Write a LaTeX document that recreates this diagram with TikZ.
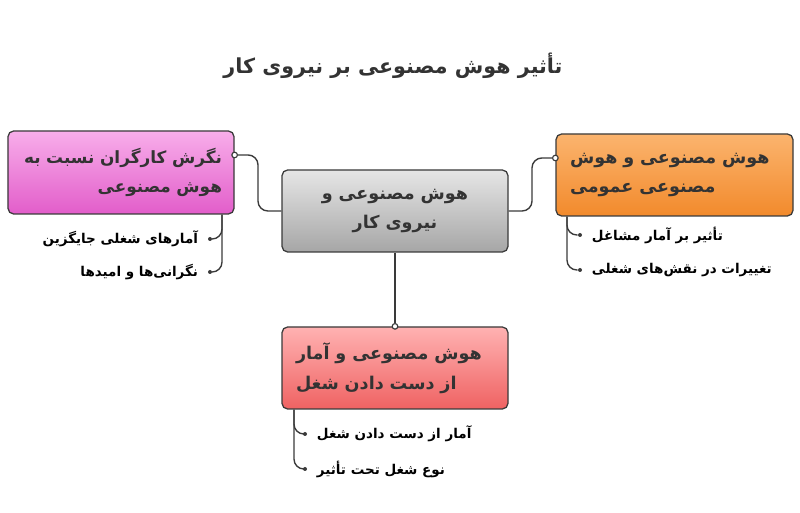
\documentclass[tikz,border=0pt]{standalone}
\usepackage{fontspec}
\newfontfamily\arabicfont[Script=Arabic]{DejaVu Sans}
\TeXXeTstate=1
\usetikzlibrary{positioning,calc}
\newcommand{\rtlline}[1]{\mbox{\beginR #1\endR}}
\definecolor{linegray}{HTML}{3A3A3A}
\definecolor{textgray}{HTML}{333333}
\definecolor{pinktop}{HTML}{F8AEEA}
\definecolor{pinkbot}{HTML}{E25DCA}
\definecolor{graytop}{HTML}{E6E6E6}
\definecolor{graybot}{HTML}{A6A6A6}
\definecolor{orangetop}{HTML}{FBB46E}
\definecolor{orangebot}{HTML}{F28A2C}
\definecolor{redtop}{HTML}{FFB2B2}
\definecolor{redbot}{HTML}{EF6262}

\begin{document}
\begin{tikzpicture}[
    box/.style={rectangle, draw=linegray, line width=0.9pt, rounded corners=4pt, minimum width=5.65cm, minimum height=2.05cm, inner xsep=0.35cm, text width=4.95cm, text=textgray, font=\arabicfont\bfseries\fontsize{12.5}{21}\selectfont},
    conn/.style={draw=linegray, line width=1pt, rounded corners=7pt},
    dot/.style={circle, draw=linegray, fill=white, line width=0.8pt, inner sep=0pt, minimum size=0.14cm},
    bullet/.style={circle, fill=linegray, inner sep=0pt, minimum size=0.1cm},
    item/.style={text=black, font=\arabicfont\bfseries\fontsize{9.6}{12}\selectfont, inner sep=1pt}
]
\useasboundingbox (0,0) rectangle (20,12.825);

\node[font=\arabicfont\bfseries\fontsize{14.7}{18}\selectfont, text=textgray] (title) at (9.825,11.175) {\rtlline{تأثیر هوش مصنوعی بر نیروی کار}};

% Main boxes
\node[box, align=center, top color=graytop, bottom color=graybot] (cbox) at (9.875,7.55) {\rtlline{هوش مصنوعی و}\\\rtlline{نیروی کار}};
\node[box, align=right, top color=pinktop, bottom color=pinkbot, minimum height=2.075cm, inner xsep=0.3cm, text width=5.05cm, font=\arabicfont\bfseries\fontsize{12}{21}\selectfont] (lbox) at (3.025,8.5125) {\rtlline{نگرش کارگران نسبت به}\\\rtlline{هوش مصنوعی}};
\node[box, align=left, top color=orangetop, bottom color=orangebot, minimum width=5.925cm, text width=5.225cm] (rbox) at (16.8625,8.45) {\rtlline{هوش مصنوعی و هوش}\\\rtlline{مصنوعی عمومی}};
\node[box, align=left, top color=redtop, bottom color=redbot] (bbox) at (9.875,3.625) {\rtlline{هوش مصنوعی و آمار}\\\rtlline{از دست دادن شغل}};

% Connectors to the centre
\node[dot] (ldot) at (lbox.east |- 0,8.95) {};
\node[dot] (rdot) at (rbox.west |- 0,8.875) {};
\node[dot] (bdot) at (bbox.north) {};
\draw[conn] (ldot) -- ($(ldot)!0.5!(ldot -| cbox.west)$) |- (cbox.west);
\draw[conn] (cbox.east) -- ($(cbox.east)!0.5!(cbox.east -| rdot)$) |- (rdot);
\draw[conn] (cbox.south) -- (bdot);

% Sub items
\node[bullet] (l1) at (5.25,6.85) {};
\node[bullet] (l2) at (5.25,6.025) {};
\node[item, left=0.2cm of l1] (l1t) {\rtlline{آمارهای شغلی جایگزین}};
\node[item, left=0.2cm of l2] (l2t) {\rtlline{نگرانی‌ها و امیدها}};
\draw[conn] (lbox.south -| 5.55,0) |- (l1);
\draw[conn] (lbox.south -| 5.55,0) |- (l2);

\node[bullet] (r1) at (14.5,6.95) {};
\node[bullet] (r2) at (14.5,6.075) {};
\node[item, right=0.2cm of r1] (r1t) {\rtlline{تأثیر بر آمار مشاغل}};
\node[item, right=0.2cm of r2] (r2t) {\rtlline{تغییرات در نقش‌های شغلی}};
\draw[conn] (rbox.south -| 14.175,0) |- (r1);
\draw[conn] (rbox.south -| 14.175,0) |- (r2);

\node[bullet] (b1) at (7.625,1.975) {};
\node[bullet] (b2) at (7.625,1.1) {};
\node[item, right=0.2cm of b1] (b1t) {\rtlline{آمار از دست دادن شغل}};
\node[item, right=0.2cm of b2] (b2t) {\rtlline{نوع شغل تحت تأثیر}};
\draw[conn] (bbox.south -| 7.35,0) |- (b1);
\draw[conn] (bbox.south -| 7.35,0) |- (b2);

\end{tikzpicture}
\end{document}
